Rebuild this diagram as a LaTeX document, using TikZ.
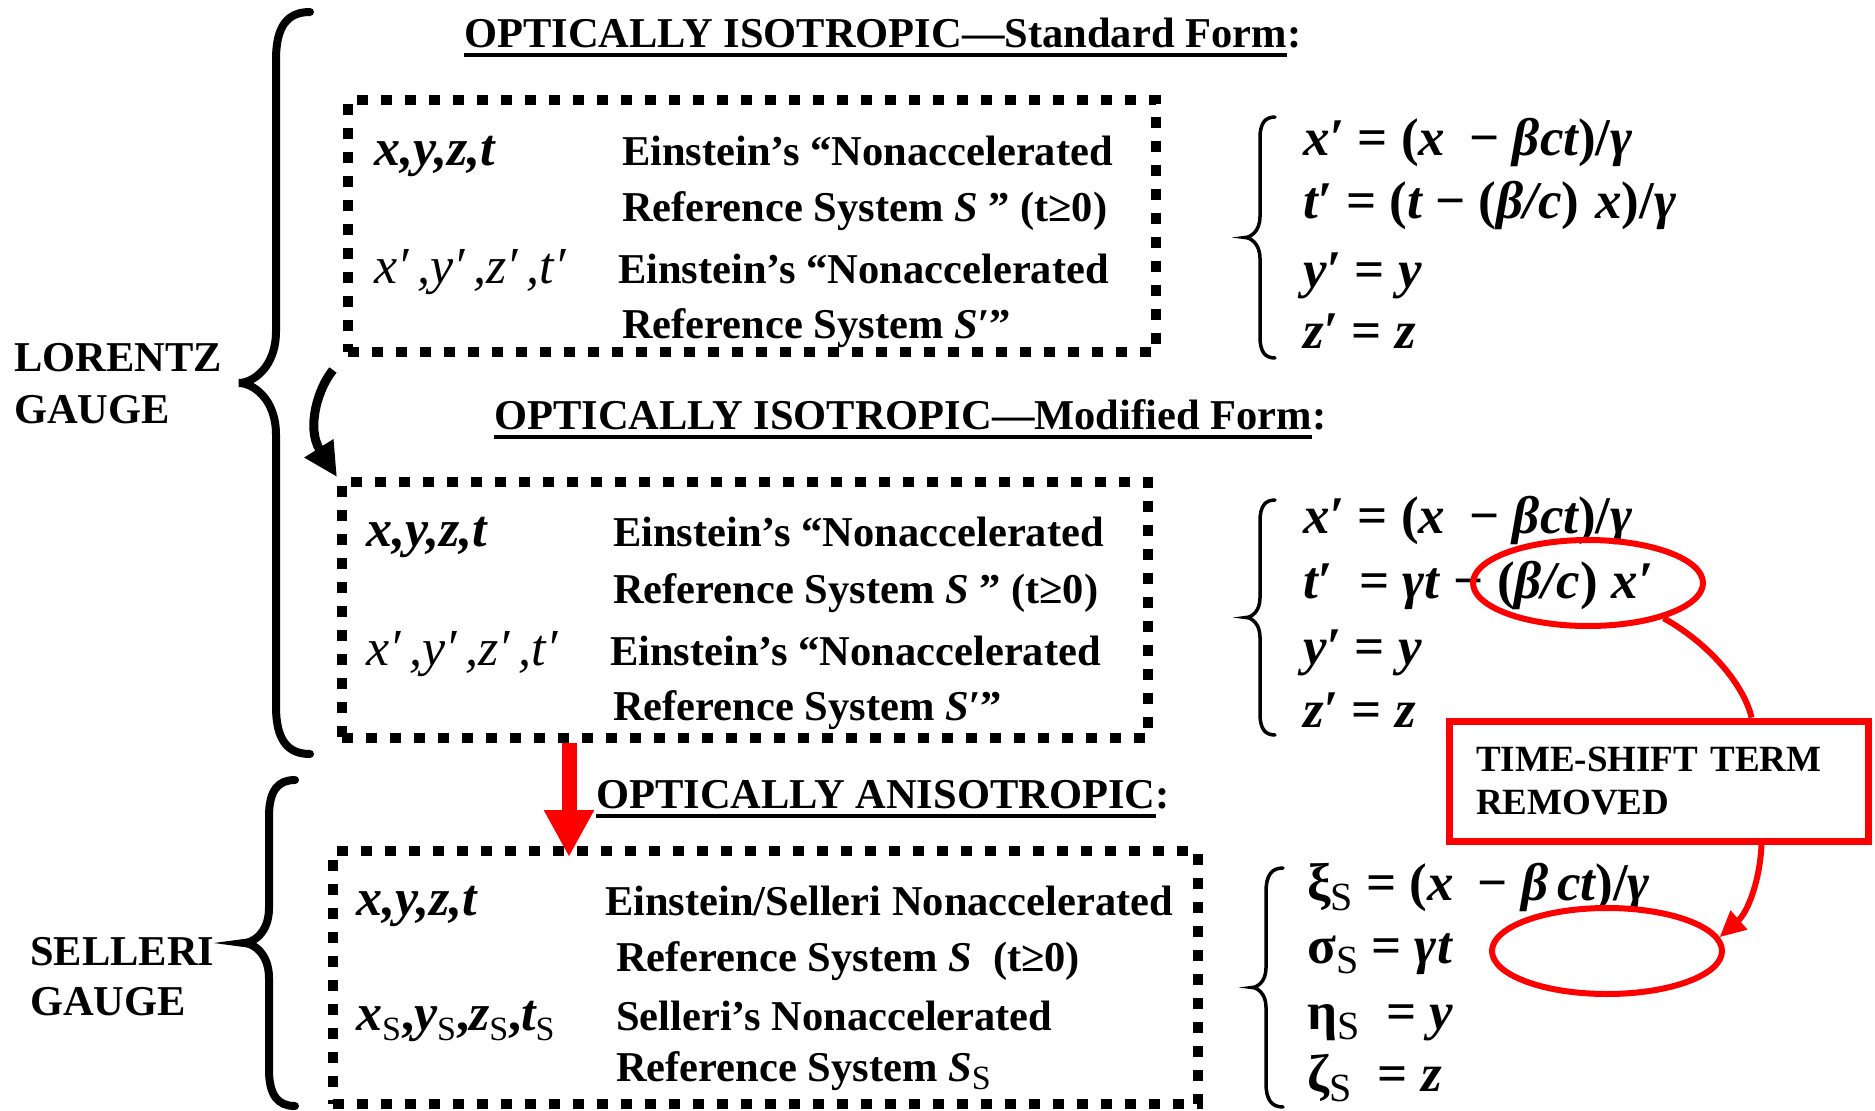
\documentclass[tikz,border=0pt]{standalone}
\usepackage{fontspec}
\setmainfont{Liberation Serif}
\usetikzlibrary{arrows.meta,shapes.geometric}
\definecolor{rred}{RGB}{255,0,0}
\newcommand\iv[1]{{\itshape #1}}
\newcommand\ssub{\raisebox{-0.2em}{\fontsize{34}{34}\selectfont\mdseries\upshape S}}
\newcommand\esub{\raisebox{-0.2em}{\fontsize{40}{40}\selectfont\mdseries\upshape S}}
\newcommand\cbrace[6]{%
\pgfmathsetmacro\bym{(#5+#6)/2}%
\pgfmathsetmacro\bra{#2-#3}%
\pgfmathsetmacro\brb{#3-#4}%
\draw[#1] (#2,#5) .. controls (#3+0.35*\bra,#5) and (#3,#5+0.4*\bra) .. (#3,#5+1.4*\bra)
 -- (#3,\bym-1.4*\brb) .. controls (#3,\bym-0.4*\brb) and (#4+0.35*\brb,\bym) .. (#4,\bym)
 .. controls (#4+0.35*\brb,\bym) and (#3,\bym+0.4*\brb) .. (#3,\bym+1.4*\brb)
 -- (#3,#6-1.4*\bra) .. controls (#3,#6-0.4*\bra) and (#3+0.35*\bra,#6) .. (#2,#6);
}
\begin{document}
\begin{tikzpicture}[x=1pt,y=-1pt,
  txt/.style={anchor=base west, inner sep=0pt, font=\fontsize{42.5}{50}\selectfont\bfseries},
  var/.style={anchor=base west, inner sep=0pt, font=\fontsize{52}{60}\selectfont\bfseries},
  eqn/.style={anchor=base west, inner sep=0pt, font=\fontsize{53}{62}\selectfont\bfseries},
  dbox/.style={draw, line width=10pt, dash pattern=on 11pt off 13pt, inner sep=0pt},
  uline/.style={line width=4pt},
  bbrace/.style={line width=8pt, line cap=round},
  ebrace/.style={line width=3.5pt, line cap=round},
  redline/.style={draw=rred, line width=6pt},
  redell/.style={ellipse, draw=rred, line width=6pt, minimum width=230pt, minimum height=86pt, inner sep=0pt}
]
\useasboundingbox (0,0) rectangle (1875,1111);
\fill[white] (0,0) rectangle (1875,1111);

% left labels and braces
\node[txt] (lor1) at (14,371) {LORENTZ};
\node[txt] (lor2) at (14,423) {GAUGE};
\node[txt] (sel1) at (30,965) {SELLERI};
\node[txt] (sel2) at (30,1015) {GAUGE};
\cbrace{bbrace}{310}{276}{239}{12}{754}
\cbrace{bbrace}{295}{269}{244}{780}{1106}

% titles
\node[txt] (t1) at (464,47) {OPTICALLY ISOTROPIC—Standard Form};
\node[txt] (t1c) at (t1.base east) {:};
\draw[uline] ([yshift=-8pt]t1.base west) -- ([yshift=-8pt]t1.base east);
\node[txt] (t2) at (494,429) {OPTICALLY ISOTROPIC—Modified Form};
\node[txt] (t2c) at (t2.base east) {:};
\draw[uline] ([yshift=-8pt]t2.base west) -- ([yshift=-8pt]t2.base east);
\node[txt] (t3) at (596,808) {OPTICALLY ANISOTROPIC};
\node[txt] (t3c) at (t3.base east) {:};
\draw[uline] ([yshift=-8pt]t3.base west) -- ([yshift=-8pt]t3.base east);

% dashed boxes
\node[dbox, minimum width=808pt, minimum height=252pt] (box1) at (752,226) {};
\node[dbox, minimum width=806pt, minimum height=256pt] (box2) at (745,610) {};
\node[dbox, minimum width=865pt, minimum height=253pt] (box3) at (765.5,977.5) {};

% box 1 text
\node[var] (b1a) at (374,165) {\iv{x,y,z,t}};
\node[txt] (b1b) at (622,165) {Einstein’s “Nonaccelerated};
\node[txt] (b1c) at (622,221) {Reference System \iv{S} ” (t≥0)};
\node[var] (b1d) at (374,283) {\mdseries\iv{x′\,,y′\,,z′\,,t′}};
\node[txt] (b1e) at (618,283) {Einstein’s “Nonaccelerated};
\node[txt] (b1f) at (622,338) {Reference System \iv{S′}”};

% box 2 text
\node[var] (b2a) at (366,546) {\iv{x,y,z,t}};
\node[txt] (b2b) at (613,546) {Einstein’s “Nonaccelerated};
\node[txt] (b2c) at (613,603) {Reference System \iv{S} ” (t≥0)};
\node[var] (b2d) at (366,665) {\mdseries\iv{x′\,,y′\,,z′\,,t′}};
\node[txt] (b2e) at (610,665) {Einstein’s “Nonaccelerated};
\node[txt] (b2f) at (613,720) {Reference System \iv{S′}”};

% box 3 text
\node[var] (b3a) at (356,915) {\iv{x,y,z,t}};
\node[txt] (b3b) at (605,915) {Einstein/Selleri Nonaccelerated};
\node[txt] (b3c) at (616,971) {Reference System \iv{S}\ \ (t≥0)};
\node[var] (b3d) at (356,1030) {\iv{x}\ssub,\iv{y}\ssub,\iv{z}\ssub,\iv{t}\ssub};
\node[txt] (b3e) at (616,1030) {Selleri’s Nonaccelerated};
\node[txt] (b3f) at (616,1081) {Reference System \iv{S}\ssub};

% equation braces
\cbrace{ebrace}{1275}{1260}{1245}{117}{358}
\cbrace{ebrace}{1275}{1260}{1246}{500}{735}
\cbrace{ebrace}{1283}{1266}{1252}{868}{1107}

% equations 1
\node[eqn] (e1a) at (1303,155) {\iv{x′} = (\iv{x}\hspace{24pt}− \iv{βct})/\iv{γ}};
\node[eqn] (e1b) at (1303,218) {\iv{t′} = (\iv{t} − (\iv{β/c})\hspace{16pt}\iv{x})/\iv{γ}};
\node[eqn] (e1c) at (1303,287) {\iv{y′} = \iv{y}};
\node[eqn] (e1d) at (1303,348) {\iv{z′} = \iv{z}};

% equations 2
\node[eqn] (e2a) at (1303,533) {\iv{x′} = (\iv{x}\hspace{24pt}− \iv{βct})/\iv{γ}};
\node[eqn] (e2b) at (1303,598) {\iv{t′}\ \ = \iv{γt}\hspace{14pt}− (\iv{β/c})\hspace{14pt}\iv{x′}};
\node[eqn] (e2c) at (1303,664) {\iv{y′} = \iv{y}};
\node[eqn] (e2d) at (1303,727) {\iv{z′} = \iv{z}};

% equations 3
\node[eqn] (e3a) at (1307,900) {ξ\esub\ = (\iv{x}\hspace{24pt}− \iv{β}\,\iv{ct})/\iv{γ}};
\node[eqn] (e3b) at (1307,963) {σ\esub\ = \iv{γt}};
\node[eqn] (e3c) at (1307,1029) {η\esub\ \ = \iv{y}};
\node[eqn] (e3d) at (1307,1091) {ζ\esub\ \ = \iv{z}};

% red ellipses and box
\node[redell] (ell1) at (1588,583) {};
\node[redell] (ell2) at (1607,951) {};
\node[draw=rred, line width=7pt, minimum width=419pt, minimum height=120pt,
      text width=365pt, align=left, inner xsep=0pt,
      font=\fontsize{37}{43}\selectfont\bfseries] (rb) at (1658.5,781)
      {TIME-SHIFT TERM\\REMOVED};

% red connectors
\draw[redline] (ell1.-25) .. controls (1712,645) and (1745,688) .. ([xshift=93pt]rb.north);
\draw[redline, -{Triangle[length=26pt,width=24pt]}] ([xshift=103pt]rb.south)
   .. controls (1760,880) and (1748,912) .. (ell2.7);

% black curved arrow
\draw[line width=9pt, -{Triangle[length=34pt,width=32pt]}]
   ([xshift=-10pt,yshift=-13pt]box1.south west) .. controls (318,388) and (306,428) .. (box2.north west);

% red down arrow
\draw[draw=rred, line width=15pt, -{Triangle[length=47pt,width=47pt]}, color=rred]
   ([xshift=-176pt]box2.south) -- ([xshift=-196.5pt,yshift=-11pt]box3.north);
\end{tikzpicture}
\end{document}
